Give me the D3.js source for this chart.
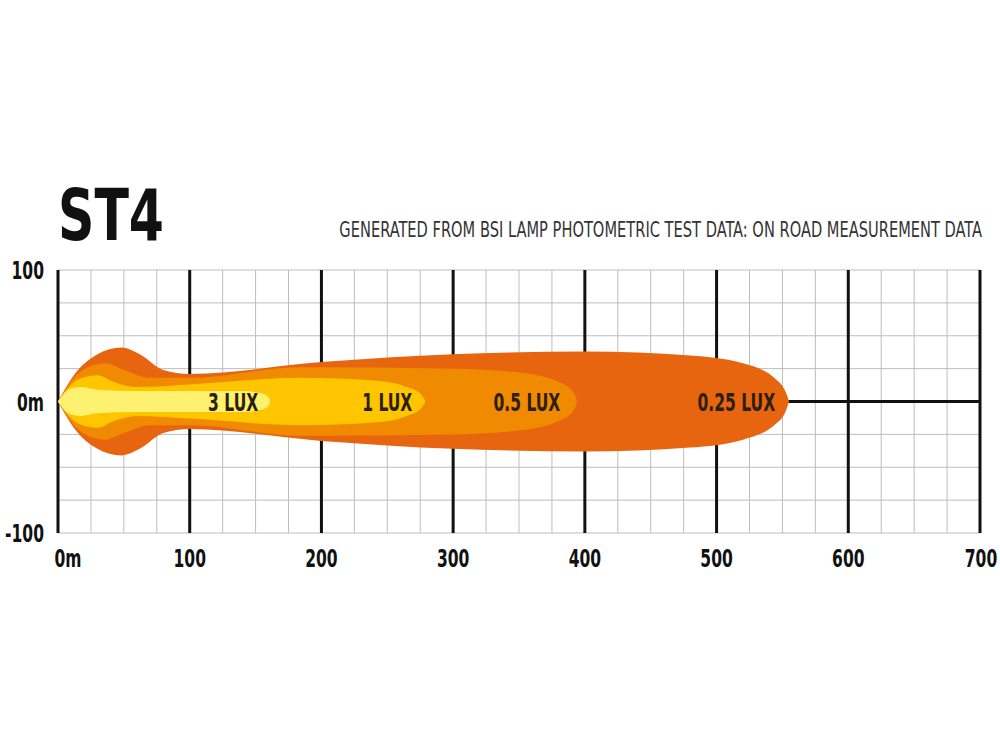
<!DOCTYPE html><html><head><meta charset="utf-8">
<script src="https://cdn.jsdelivr.net/npm/d3@7"></script>
<style>body{margin:0;background:#fff}</style></head><body>
<svg id="c" width="1000" height="750"></svg>
<script>
const title = "ST4";
const subtitle = "GENERATED FROM BSI LAMP PHOTOMETRIC TEST DATA: ON ROAD MEASUREMENT DATA";
const xTicks = [0,100,200,300,400,500,600,700];
const xTickLabels = ["0m","100","200","300","400","500","600","700"];
const yTicks = [100,0,-100];
const yTickLabels = ["100","0m","-100"];
const zoneNames = ["0.25 LUX","0.5 LUX","1 LUX","3 LUX"];
const zoneLabelX = [515,356,250,133];
// half-width profiles [distance, half-width]
const lux025 = [[0,0],[12,20],[30,36],[48,41],[62,36],[80,24],[100,21],[200,30],[300,36],[400,38],[480,35],[520,29],[545,17],[553,6],[555,0]];
const lux05 = [[0,0],[12,18],[25,27],[36,29],[50,24],[70,18],[100,18],[184,26],[300,25],[350,22],[380,15],[392,6],[394,0]];
const lux1 = [[0,0],[10,13],[22,19],[30,20],[42,15],[60,11],[100,13],[184,18],[240,16],[265,11],[276,5],[279,0]];
const lux3 = [[0,0],[8,9],[17,11],[30,9],[60,8],[110,8],[140,8],[155,6],[160,3],[161,0]];
const zoneColors = ["#e8650f","#f08a00","#ffc600","#fff170"];

const svg = d3.select("#c");
const font = "'DejaVu Sans Condensed','DejaVu Sans',sans-serif";
const x = d3.scaleLinear().domain([0,700]).range([58,980]);
const y = d3.scaleLinear().domain([-100,100]).range([533,270]);

const g = svg.append("g");
d3.range(0,701,25).forEach(v=>g.append("line").attr("x1",x(v)).attr("x2",x(v)).attr("y1",y(100)).attr("y2",y(-100)).attr("stroke","#bdbdbd").attr("stroke-width",1));
d3.range(-100,101,25).forEach(v=>g.append("line").attr("x1",x(0)).attr("x2",x(700)).attr("y1",y(v)).attr("y2",y(v)).attr("stroke","#bdbdbd").attr("stroke-width",1));
xTicks.forEach(v=>g.append("line").attr("x1",x(v)).attr("x2",x(v)).attr("y1",y(100)).attr("y2",y(-100)).attr("stroke","#111").attr("stroke-width",3));
g.append("line").attr("x1",x(0)).attr("x2",x(700)).attr("y1",y(0)).attr("y2",y(0)).attr("stroke","#111").attr("stroke-width",3);

const area = d3.area().x(d=>x(d[0])).y0(d=>y(-d[1])).y1(d=>y(d[1])).curve(d3.curveMonotoneX);
[lux025,lux05,lux1,lux3].forEach((p,i)=>g.append("path").attr("d",area(p)).attr("fill",zoneColors[i]));

function txt(s,tx,ty,size,anchor,weight,fill,sx){
  return svg.append("text").attr("transform",`translate(${tx},${ty}) scale(${sx},1)`).attr("text-anchor",anchor)
    .attr("font-family",font).attr("font-weight",weight).attr("font-size",size).attr("fill",fill).text(s);
}
zoneNames.forEach((n,i)=>txt(n,x(zoneLabelX[i]),y(0)+9,24,"middle","bold","#2b2010",0.72));
xTicks.forEach((v,i)=>txt(xTickLabels[i],x(v)+(i==0?10:i==7?1:0),567,24,"middle","bold","#111",0.72));
yTicks.forEach((v,i)=>txt(yTickLabels[i],44,y(v)+9,24,"end","bold","#111",0.72));

txt(title,58,240,72,"start","bold","#111",0.78);
txt(subtitle,982,237,22,"end","normal","#333",0.74);
</script></body></html>
